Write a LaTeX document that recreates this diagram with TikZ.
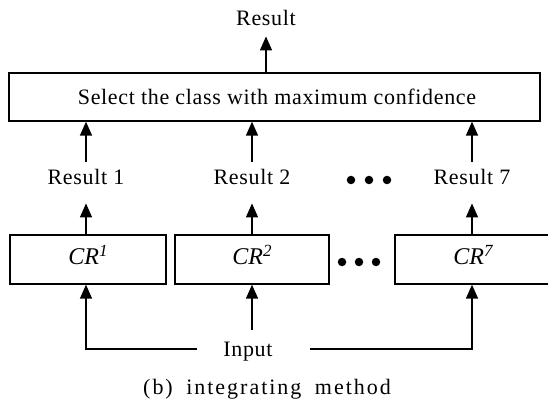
\documentclass[tikz,border=0pt]{standalone}
\usepackage{fontspec}
\setmainfont{Liberation Serif}
\newfontfamily\spacedserif[LetterSpace=3]{Liberation Serif}
\newfontfamily\widespacedserif[LetterSpace=9]{Liberation Serif}
\usetikzlibrary{arrows.meta}
% italic classifier label with a raised index
\newcommand{\crlabel}[1]{\textit{CR\/}\raisebox{8.5pt}{\fontsize{17}{17}\selectfont\itshape #1}}

\begin{document}
\begin{tikzpicture}[x=1pt,y=-1pt,
  txt/.style={font=\fontsize{22}{26}\selectfont\spacedserif, inner sep=0pt, anchor=base},
  box/.style={draw, line width=1.3pt, inner sep=0pt,
              font=\fontsize{24}{28}\selectfont, text height=10pt, text depth=0pt},
  bigbox/.style={draw, line width=1.3pt, inner sep=0pt},
  conn/.style={line width=1.5pt},
  arr/.style={conn, -{Triangle[length=14pt,width=12pt]}},
  bullet/.style={circle, fill, inner sep=0pt, minimum size=8.5pt}]
\useasboundingbox (0,0) rectangle (548,403);

% final output and the selection stage
\node[txt] (res) at (266,26) {Result};
\node[bigbox, minimum width=531pt, minimum height=48pt] (sel) at (274.5,97) {};
\node[txt, anchor=center] (seltext) at (277,97) {Select the class with maximum confidence};

% results of the individual classifiers
\node[txt] (r1) at (86,185) {Result 1};
\node[txt] (r2) at (252,185) {Result 2};
\node[txt] (r7) at (472,185) {Result 7};

% classifier boxes
\node[box, minimum width=156pt, minimum height=49pt] (cr1) at (88,259.5) {\crlabel{1}};
\node[box, minimum width=154pt, minimum height=49pt] (cr2) at (252,259.5) {\crlabel{2}};
\node[box, minimum width=156pt, minimum height=49pt] (cr7) at (473,259.5) {\crlabel{7}};

% ellipsis between columns
\node[bullet] (d1) at (351,180) {};
\node[bullet] (d2) at (369,180) {};
\node[bullet] (d3) at (387,180) {};
\node[bullet] (e1) at (342,262) {};
\node[bullet] (e2) at (359,262) {};
\node[bullet] (e3) at (376,262) {};

% input and caption
\node[txt] (inp) at (248,356) {Input};
\node[txt, font=\fontsize{22}{26}\selectfont\widespacedserif] (cap) at (267,394)
  {(b)\hspace{6pt} integrating\hspace{6pt} method};

\coordinate (inl) at (197,349);
\coordinate (inr) at (310,349);
\coordinate (inT) at (252,330);

% connectors
\draw[arr] (sel.north -| res) -- ([yshift=-10pt]res.south);
\foreach \r/\c in {r1/cr1, r2/cr2, r7/cr7}{
  \draw[arr] ([yshift=8pt]\r.north) -- (\r.north |- sel.south);
  \draw[arr] (\c.north -| \r) -- ([yshift=-18pt]\r.south);
}
\draw[arr] (inl) -| (r1 |- cr1.south);
\draw[arr] (inT) -- (r2 |- cr2.south);
\draw[arr] (inr) -| (r7 |- cr7.south);
\end{tikzpicture}
\end{document}
